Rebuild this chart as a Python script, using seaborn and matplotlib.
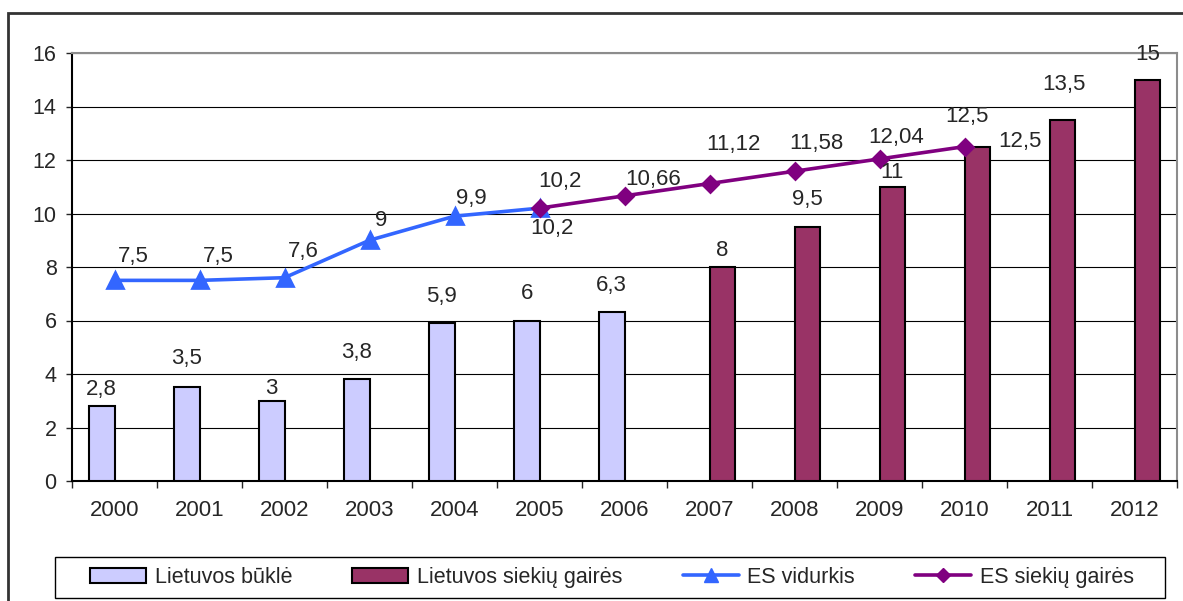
import matplotlib
matplotlib.use("Agg")
import matplotlib.pyplot as plt
import seaborn as sns
import pandas as pd
from matplotlib.patches import Rectangle
from matplotlib.lines import Line2D
from matplotlib.ticker import FixedLocator

# ---- data ----
years = ['2000', '2001', '2002', '2003', '2004', '2005', '2006',
         '2007', '2008', '2009', '2010', '2011', '2012']

lt_state_years = ['2000', '2001', '2002', '2003', '2004', '2005', '2006']
lt_state = [2.8, 3.5, 3.0, 3.8, 5.9, 6.0, 6.3]

lt_goal_years = ['2007', '2008', '2009', '2010', '2011', '2012']
lt_goal = [8, 9.5, 11, 12.5, 13.5, 15]

es_avg_years = ['2000', '2001', '2002', '2003', '2004', '2005']
es_avg = [7.5, 7.5, 7.6, 9, 9.9, 10.2]

es_goal_years = ['2005', '2006', '2007', '2008', '2009', '2010']
es_goal = [10.2, 10.66, 11.12, 11.58, 12.04, 12.5]

series_names = ['Lietuvos būklė', 'Lietuvos siekių gairės', 'ES vidurkis', 'ES siekių gairės']
colors = ['#CCCCFF', '#993366', '#3366FF', '#800080']

# label offsets in pixels (dx, dy) - hand placed like the original
bar_lbl_off = [(0, 17), (0, 29), (0, 12), (0, 27), (0, 27), (0, 27), (0, 27),
               (0, 17), (0, 27), (0, 14), (43, 5), (2, 35), (0, 25)]
es_avg_lbl_off = [(19, 24), (19, 24), (19, 26), (12, 20), (17, 18), (12, -20)]
es_goal_lbl_off = [(20, 27), (29, 16), (24, 39), (22, 28), (17, 21), (2, 30)]

FS = 16


def fmt(v):
    return '{:g}'.format(v).replace('.', ',')


sns.set_style("white")
plt.rcParams['font.family'] = ['Liberation Sans', 'DejaVu Sans']

bars = pd.DataFrame({
    'year': lt_state_years + lt_goal_years,
    'value': lt_state + lt_goal,
    'group': [series_names[0]] * len(lt_state) + [series_names[1]] * len(lt_goal),
})

fig = plt.figure(figsize=(11.83, 6.01), dpi=100)
ax = fig.add_axes([72 / 1183, 1 - 481 / 601, (1177 - 72) / 1183, (481 - 53) / 601])

sns.barplot(data=bars, x='year', y='value', hue='group', order=years,
            hue_order=series_names[:2], palette=colors[:2], dodge=True, saturation=1,
            width=0.6, edgecolor='black', linewidth=1.5, legend=False, ax=ax,
            zorder=3)
bar_patches = [p for p in ax.patches if p.get_height() > 0]

sns.pointplot(x=es_avg_years, y=es_avg, order=years, color=colors[2],
              markers='^', markersize=11, linewidth=2.6, errorbar=None, ax=ax)
sns.pointplot(x=es_goal_years, y=es_goal, order=years, color=colors[3],
              markers='D', markersize=8, linewidth=2.6, errorbar=None, ax=ax)

for ln in ax.lines:
    ln.set_zorder(4)

# data labels
for i, (p, v) in enumerate(zip(bar_patches, bars['value'])):
    ax.annotate(fmt(v), xy=(p.get_x() + p.get_width() / 2, p.get_height()), xytext=bar_lbl_off[i],
                textcoords='offset pixels', ha='center', va='center', fontsize=FS, zorder=5)
for i, (y, v) in enumerate(zip(es_avg_years, es_avg)):
    ax.annotate(fmt(v), xy=(years.index(y), v), xytext=es_avg_lbl_off[i],
                textcoords='offset pixels', ha='center', va='center', fontsize=FS, zorder=5)
for i, (y, v) in enumerate(zip(es_goal_years, es_goal)):
    ax.annotate(fmt(v), xy=(years.index(y), v), xytext=es_goal_lbl_off[i],
                textcoords='offset pixels', ha='center', va='center', fontsize=FS, zorder=5)

# axes styling
ax.set_xlim(-0.5, len(years) - 0.5)
ax.set_ylim(0, 16)
ax.set_yticks(range(0, 17, 2))
ax.set_xlabel('')
ax.set_ylabel('')
ax.yaxis.grid(True, color='black', linewidth=0.8)
ax.set_axisbelow(True)
ax.tick_params(axis='y', direction='out', length=4, width=1, pad=7, labelsize=FS - 0.5, left=True)
ax.tick_params(axis='x', which='major', length=0, pad=14, labelsize=FS)
ax.xaxis.set_minor_locator(FixedLocator([i - 0.5 for i in range(len(years) + 1)]))
ax.tick_params(axis='x', which='minor', direction='out', length=5, width=1, bottom=True)
for s in ['left', 'bottom']:
    ax.spines[s].set_color('black')
    ax.spines[s].set_linewidth(1.5)
for s in ['top', 'right']:
    ax.spines[s].set_color('#8c8c8c')
    ax.spines[s].set_linewidth(1.5)

# outer chart border
fig.patches.append(Rectangle((8 / 1183, -0.1), 1.2, 1.1 - 13 / 601, transform=fig.transFigure,
                             fill=False, edgecolor='#333333', linewidth=2))

# legend box
fig.patches.append(Rectangle((55 / 1183, 1 - 598 / 601), 1110 / 1183, 41 / 601,
                             transform=fig.transFigure, fill=False,
                             edgecolor='black', linewidth=1))
handles = [
    Rectangle((0, 0), 1, 1, facecolor=colors[0], edgecolor='black', linewidth=1.5),
    Rectangle((0, 0), 1, 1, facecolor=colors[1], edgecolor='black', linewidth=1.5),
    Line2D([], [], color=colors[2], marker='^', markersize=10, linewidth=2.6),
    Line2D([], [], color=colors[3], marker='D', markersize=7, linewidth=2.6),
]
fig.legend(handles, series_names, loc='center left', bbox_to_anchor=(90 / 1183, 1 - 577.5 / 601),
           ncol=4, frameon=False, fontsize=15.5, handlelength=2.6, handletextpad=0.4,
           columnspacing=2.8, borderpad=0, borderaxespad=0, numpoints=1)

fig.savefig('out.png', dpi=100)
